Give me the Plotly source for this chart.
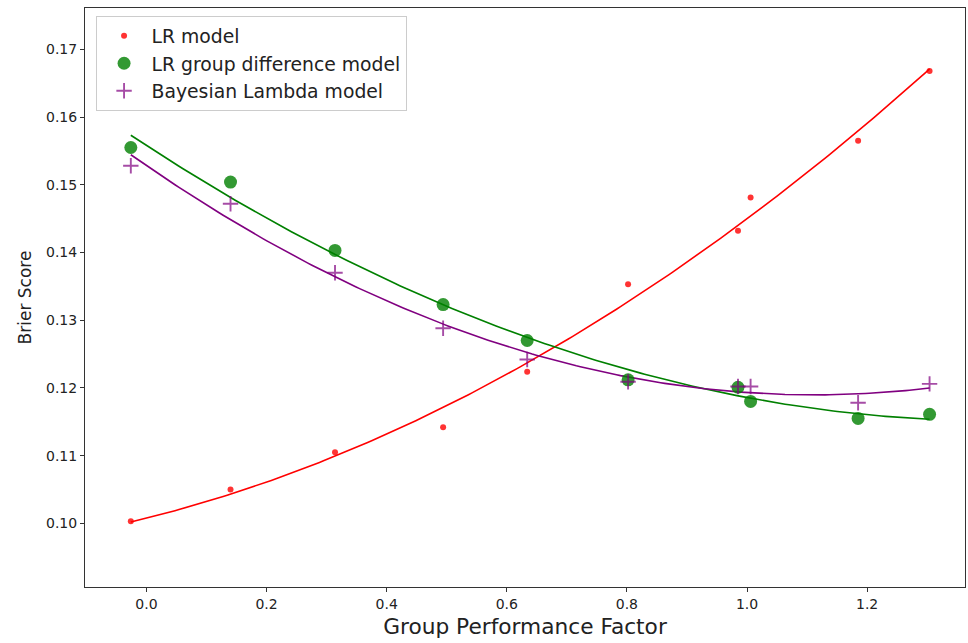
import numpy as np
import plotly.graph_objects as go

# Data
x_vals = [-0.026, 0.140, 0.314, 0.494, 0.634, 0.802, 0.985, 1.006, 1.185, 1.304]
lr_model = [0.1003, 0.1050, 0.1105, 0.1142, 0.1224, 0.1353, 0.1432, 0.1481, 0.1565, 0.1668]
lr_group_diff = [0.1555, 0.1504, 0.1403, 0.1323, 0.1270, 0.1212, 0.1201, 0.1180, 0.1155, 0.1161]
bayes_lambda = [0.1528, 0.1472, 0.1370, 0.1288, 0.1242, 0.1209, 0.1202, 0.1202, 0.1178, 0.1206]

series_names = ["LR model", "LR group difference model", "Bayesian Lambda model"]
x_ticks = [0.0, 0.2, 0.4, 0.6, 0.8, 1.0, 1.2]
y_ticks = [0.10, 0.11, 0.12, 0.13, 0.14, 0.15, 0.16, 0.17]

x = np.array(x_vals)
xs = np.linspace(x.min(), x.max(), 200)

fig = go.Figure()

styles = [
    dict(color="rgba(255,0,0,0.8)", symbol="circle", size=6, line_color="red"),
    dict(color="rgba(0,128,0,0.8)", symbol="circle", size=13, line_color="green"),
    dict(color="rgba(128,0,128,0.7)", symbol="cross-thin", size=11, line_color="purple"),
]

for name, ys, st in zip(series_names, [lr_model, lr_group_diff, bayes_lambda], styles):
    coef = np.polyfit(x, np.array(ys), 2)
    fig.add_trace(go.Scatter(
        x=xs, y=np.polyval(coef, xs), mode="lines",
        line=dict(color=st["line_color"], width=1.6),
        showlegend=False, hoverinfo="skip"))

for name, ys, st in zip(series_names, [lr_model, lr_group_diff, bayes_lambda], styles):
    marker = dict(color=st["color"], symbol=st["symbol"], size=st["size"])
    if st["symbol"] == "cross-thin":
        marker["line"] = dict(color=st["color"], width=1.9)
    else:
        marker["line"] = dict(width=0)
    fig.add_trace(go.Scatter(x=x_vals, y=ys, mode="markers", name=name,
                             legendgroup=name, marker=marker))

axis_common = dict(
    showline=True, linecolor="#333", linewidth=1, mirror=True,
    ticks="outside", ticklen=4, tickwidth=1, tickcolor="#333",
    showgrid=False, zeroline=False,
    tickfont=dict(family="DejaVu Sans", size=14, color="#222"),
)

fig.update_layout(
    width=968, height=643,
    margin=dict(l=85, r=3, t=8, b=56),
    plot_bgcolor="white", paper_bgcolor="white",
    xaxis=dict(range=[-0.1023, 1.363], tickvals=x_ticks,
               ticktext=[f"{v:.1f}" for v in x_ticks],
               title=dict(text="Group Performance Factor", standoff=8,
                          font=dict(family="DejaVu Sans", size=21.7, color="#222")),
               **axis_common),
    yaxis=dict(range=[0.0906, 0.1761], tickvals=y_ticks,
               ticktext=[f"{v:.2f}" for v in y_ticks],
               title=dict(text="Brier Score", standoff=10,
                          font=dict(family="DejaVu Sans", size=17, color="#222")),
               **axis_common),
    legend=dict(x=0.012, y=0.986, xanchor="left", yanchor="top",
                bgcolor="rgba(255,255,255,0.8)", bordercolor="#ccc", borderwidth=1,
                font=dict(family="DejaVu Sans", size=18.8, color="#222"),
                itemwidth=45, tracegroupgap=0),
    showlegend=True,
)

fig.write_html("out.html",
               config={"displayModeBar": False},
               post_script="document.body.style.margin='0';document.body.style.overflow='hidden';")
